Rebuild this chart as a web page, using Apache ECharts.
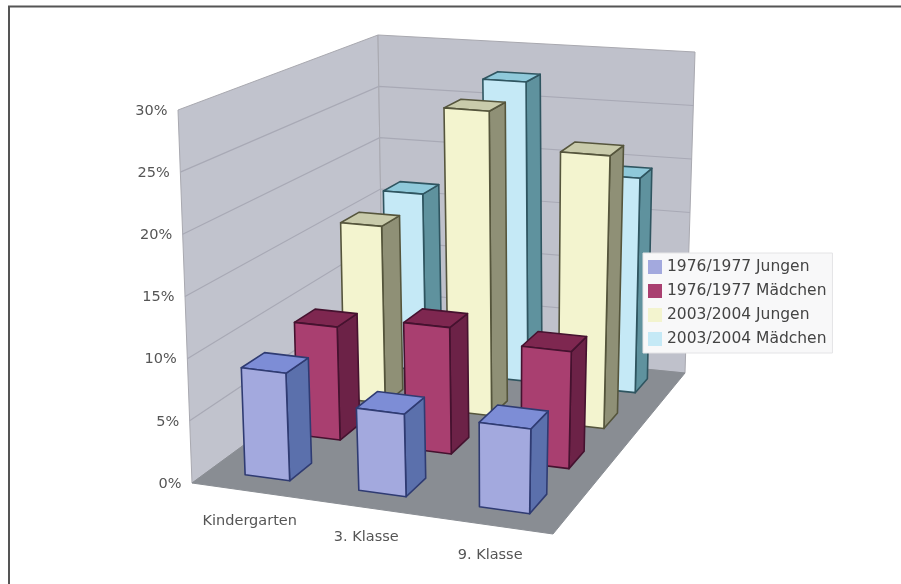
<!DOCTYPE html>
<html><head><meta charset="utf-8">
<style>html,body{margin:0;padding:0;background:#fff;overflow:hidden}#c{width:901px;height:584px}</style>
<script src="https://cdn.jsdelivr.net/npm/echarts@6/dist/echarts.min.js"></script>
</head><body><div id="c"></div>
<script>
// Shares of overweight children, 3D column chart
const categories = ['Kindergarten', '3. Klasse', '9. Klasse'];
const seriesNames = ['1976/1977 Jungen', '1976/1977 Mädchen', '2003/2004 Jungen', '2003/2004 Mädchen'];
const jungen7677 = [8.7, 6.6, 6.7];
const maedchen7677 = [9.6, 10.6, 9.7];
const jungen0304 = [15.8, 26.8, 23.7];
const maedchen0304 = [16.5, 27.6, 19.5];
const valueTicks = [0, 5, 10, 15, 20, 25, 30];
const seriesValues = [jungen7677, maedchen7677, jungen0304, maedchen0304];

// Face colours per series: front, side, top, edge
const palette = [
  ['#a3a9de', '#5b70ac', '#7d8dd6', '#2f3b72'],
  ['#a93f70', '#6c2247', '#7e2750', '#45122f'],
  ['#f3f4cf', '#8f9076', '#c9cbab', '#55553c'],
  ['#c5e9f6', '#5f929e', '#8fc9da', '#2f5560']
];

// Projection of the plot box: floor and ceiling quads in page space
const floorQuad = [[192, 483], [553, 534], [685, 373], [383, 343]];
const ceilQuad = [[178, 110], [563, 148], [695, 52], [378, 35]];
const vMax = 30;

function quadMatrix(q) {
  const [[x0, y0], [x1, y1], [x2, y2], [x3, y3]] = q;
  const dx1 = x1 - x2, dx2 = x3 - x2, sx = x0 - x1 + x2 - x3;
  const dy1 = y1 - y2, dy2 = y3 - y2, sy = y0 - y1 + y2 - y3;
  const d = dx1 * dy2 - dx2 * dy1;
  const g = (sx * dy2 - dx2 * sy) / d, h = (dx1 * sy - sx * dy1) / d;
  return [x1 - x0 + g * x1, x3 - x0 + h * x3, x0, y1 - y0 + g * y1, y3 - y0 + h * y3, y0, g, h];
}
const floorM = quadMatrix(floorQuad), ceilM = quadMatrix(ceilQuad);
function applyM(m, u, v) {
  const w = m[6] * u + m[7] * v + 1;
  return [(m[0] * u + m[1] * v + m[2]) / w, (m[3] * u + m[4] * v + m[5]) / w];
}
// u: along the categories, v: into the depth, val: percent
function project(u, v, val) {
  const a = applyM(floorM, u, v), b = applyM(ceilM, u, v), t = val / vMax;
  return [a[0] + (b[0] - a[0]) * t, a[1] + (b[1] - a[1]) * t];
}

const barW = 0.133, barD = 0.105, slotShiftU = 0.007, slotShiftV = 0.005;
const poly = (points, style) => ({ type: 'polygon', shape: { points }, style });

function renderColumn(seriesIdx) {
  return function (params, api) {
    const cat = api.value(0), val = api.value(1);
    const uc = (cat + 0.5) / categories.length + slotShiftU, vc = (seriesIdx + 0.5) / seriesNames.length + slotShiftV;
    const u0 = uc - barW / 2, u1 = uc + barW / 2, v0 = vc - barD / 2, v1 = vc + barD / 2;
    const c = palette[seriesIdx];
    const edge = { stroke: c[3], lineWidth: 1.6, lineJoin: 'round' };
    return {
      type: 'group',
      children: [
        poly([project(u1, v0, 0), project(u1, v1, 0), project(u1, v1, val), project(u1, v0, val)], { fill: c[1], ...edge }),
        poly([project(u0, v0, val), project(u1, v0, val), project(u1, v1, val), project(u0, v1, val)], { fill: c[2], ...edge }),
        poly([project(u0, v0, 0), project(u1, v0, 0), project(u1, v0, val), project(u0, v0, val)], { fill: c[0], ...edge })
      ]
    };
  };
}

function renderBox() {
  const children = [
    poly([project(0, 0, 0), project(0, 0, vMax), project(0, 1, vMax), project(0, 1, 0)], { fill: '#c1c3cd', stroke: '#a9a9b0', lineWidth: 1 }),
    poly([project(0, 1, 0), project(0, 1, vMax), project(1, 1, vMax), project(1, 1, 0)], { fill: '#bfc1cb', stroke: '#a9a9b0', lineWidth: 1 }),
    poly([project(0, 0, 0), project(1, 0, 0), project(1, 1, 0), project(0, 1, 0)], { fill: '#898d93', stroke: '#898d93', lineWidth: 1 })
  ];
  valueTicks.forEach(t => {
    if (t > 0 && t < vMax) {
      children.push({ type: 'polyline', shape: { points: [project(0, 0, t), project(0, 1, t), project(1, 1, t)] }, style: { fill: null, stroke: '#a8a9b5', lineWidth: 1.2 } });
    }
    const p = project(0, 0, t);
    children.push({ type: 'text', x: p[0] - 10.5, y: p[1] + 1, style: { text: t + '%', fill: '#555', font: '14.5px "DejaVu Sans"', textAlign: 'right', textVerticalAlign: 'middle' } });
  });
  categories.forEach((name, i) => {
    const p = project((i + 0.5) / categories.length, 0, 0);
    children.push({ type: 'text', x: p[0] + 2, y: p[1] + 30, style: { text: name, fill: '#555', font: '14.5px "DejaVu Sans"', textAlign: 'center', textVerticalAlign: 'middle' } });
  });
  return { type: 'group', children };
}

const columnSeries = seriesNames.map((name, s) => ({
  type: 'custom',
  name,
  coordinateSystem: 'none',
  silent: true,
  itemStyle: { color: palette[s][0] },
  data: seriesValues[s].map((v, i) => [i, v]),
  renderItem: renderColumn(s)
}));

const chart = echarts.init(document.getElementById('c'), null, { renderer: 'canvas' });
chart.setOption({
  animation: false,
  backgroundColor: '#fff',
  graphic: [{ type: 'rect', shape: { x: 9, y: 6.5, width: 920, height: 620 }, style: { fill: null, stroke: '#555', lineWidth: 2 }, silent: true, z: -10 }],
  legend: {
    data: seriesNames,
    orient: 'vertical',
    left: 643, top: 253,
    padding: [6, 6, 6, 5],
    itemWidth: 14, itemHeight: 14, itemGap: 8,
    backgroundColor: '#f8f8f9',
    borderColor: '#e4e4e6',
    borderWidth: 1,
    icon: 'rect',
    textStyle: { color: '#444', fontFamily: 'DejaVu Sans', fontSize: 15.5 },
    z: 20
  },
  series: [
    { type: 'custom', coordinateSystem: 'none', silent: true, data: [[0]], renderItem: renderBox },
    ...columnSeries.slice().reverse()
  ]
});
</script></body></html>
